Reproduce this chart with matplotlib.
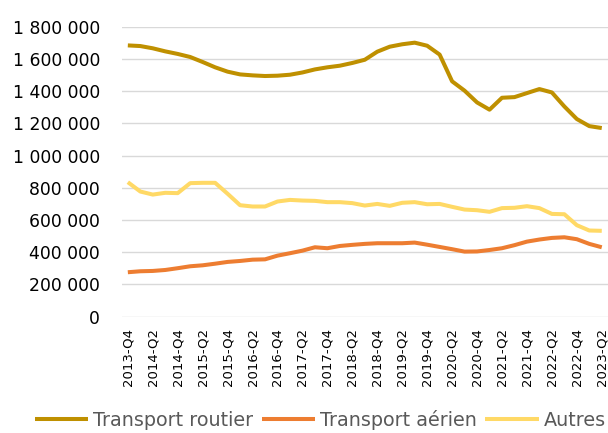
import matplotlib
matplotlib.use("Agg")
import matplotlib.pyplot as plt
from matplotlib.ticker import FuncFormatter

quarters = []
for y in range(2013, 2024):
    for q in (1, 2, 3, 4):
        if (y, q) >= (2013, 4) and (y, q) <= (2023, 2):
            quarters.append(f"{y}-Q{q}")

routier = [1684000, 1680000, 1666000, 1647000, 1631000, 1612000, 1581000, 1548000,
           1521000, 1504000, 1498000, 1494000, 1496000, 1502000, 1516000, 1535000,
           1548000, 1558000, 1575000, 1595000, 1645000, 1676000, 1691000, 1701000,
           1682000, 1627000, 1461000, 1403000, 1330000, 1285000, 1359000, 1363000,
           1388000, 1413000, 1392000, 1305000, 1227000, 1183000, 1171000]
aerien = [276000, 282000, 284000, 290000, 301000, 313000, 319000, 329000,
          340000, 346000, 354000, 356000, 379000, 394000, 410000, 431000,
          425000, 439000, 446000, 452000, 456000, 456000, 456000, 460000,
          447000, 433000, 419000, 404000, 405000, 414000, 425000, 444000,
          466000, 479000, 489000, 493000, 481000, 452000, 431000]
autres = [835000, 777000, 758000, 769000, 767000, 829000, 831000, 831000,
          763000, 692000, 684000, 684000, 715000, 725000, 721000, 719000,
          711000, 711000, 705000, 690000, 700000, 688000, 707000, 711000,
          698000, 700000, 682000, 665000, 661000, 651000, 674000, 676000,
          686000, 674000, 638000, 636000, 568000, 535000, 533000]

series_names = ["Transport routier", "Transport aérien", "Autres"]
colors = ["#BF9000", "#ED7D31", "#FFD966"]

plt.rcParams['font.family'] = ['DejaVu Sans']
fig = plt.figure(figsize=(6.08, 4.33), dpi=100)
ax = fig.add_axes([0.2, 0.2686, 0.8, 0.6697])

x = list(range(len(quarters)))
for vals, name, c in zip([routier, aerien, autres], series_names, colors):
    ax.plot(x, vals, color=c, lw=2.9, label=name, solid_capstyle='butt')

ax.set_xlim(-0.5, len(quarters) - 0.5)
ax.set_ylim(0, 1800000)
ax.set_yticks(range(0, 1800001, 200000))
ax.yaxis.set_major_formatter(FuncFormatter(lambda v, p: f"{int(v):,}".replace(",", " ")))
ax.grid(axis='y', color='#D9D9D9', lw=1.0)
ax.set_axisbelow(True)
for s in ax.spines.values():
    s.set_visible(False)
ax.set_xticks(x[::2])
ax.set_xticklabels(quarters[::2], rotation=90, fontsize=9.5)
ax.tick_params(axis='x', length=0, pad=8)
ax.tick_params(axis='y', length=0, pad=15.5, labelsize=12.4)

fig.legend(loc='lower center', bbox_to_anchor=(0.527, -0.032), ncol=3, frameon=False,
           fontsize=13.8, labelcolor='#595959', handlelength=2.8, handletextpad=0.26,
           columnspacing=0.42)

fig.savefig("out.png", dpi=100)
